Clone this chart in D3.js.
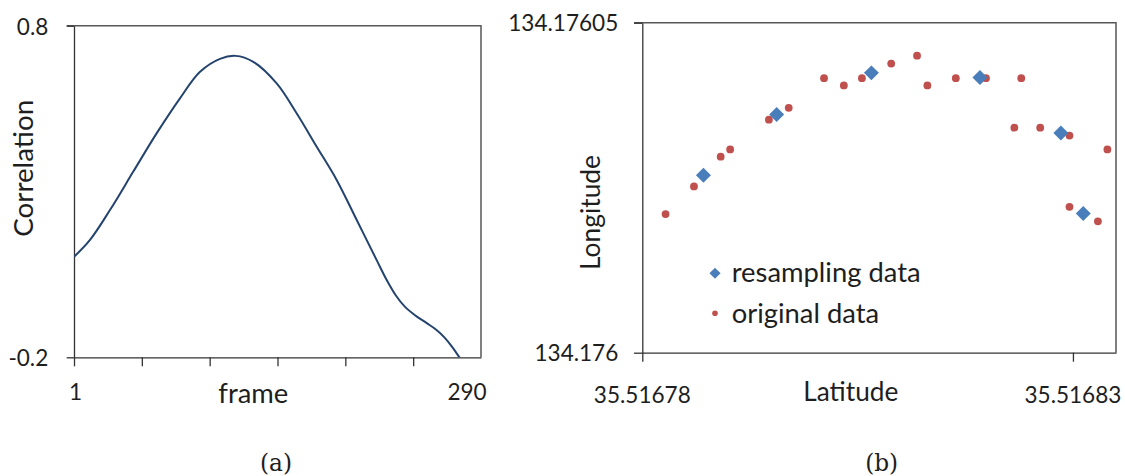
<!DOCTYPE html>
<html><head><meta charset="utf-8">
<script src="https://cdn.jsdelivr.net/npm/d3@7"></script>
<style>body{margin:0;background:#fff}svg{display:block}</style>
</head><body>
<svg id="c" width="1125" height="476"></svg>
<script>
// ---------- data: panel (a) ----------
const frames = [1, 12.8, 27.5, 44.7, 62, 79.1, 93.9, 108.6, 120.2, 133.2, 150.4, 165.1, 179.9, 194.6, 209.4, 224.1, 231.5, 238, 245, 253, 261, 268, 274, 280, 285.5, 290];
const correlation = [0.103, 0.154, 0.244, 0.360, 0.476, 0.581, 0.661, 0.700, 0.709, 0.691, 0.626, 0.536, 0.435, 0.335, 0.214, 0.093, 0.033, -0.012, -0.048, -0.075, -0.097, -0.117, -0.140, -0.170, -0.203, -0.232];
const frameTicks = [1, 51, 101, 151, 201, 251];
const frameLabels = [1, 290];
const corrTicks = [0.8, -0.2];

// ---------- data: panel (b) ----------
const latOriginal = [35.5167827, 35.5167860, 35.5167891, 35.5167902, 35.5167947, 35.5167970, 35.5168011, 35.5168034, 35.5168055, 35.5168089, 35.5168119, 35.5168131, 35.5168164, 35.5168199, 35.5168240, 35.5168232, 35.5168262, 35.5168296, 35.5168340, 35.5168296, 35.5168329];
const lonOriginal = [134.1760210, 134.1760252, 134.1760297, 134.1760308, 134.1760353, 134.1760371, 134.1760416, 134.1760405, 134.1760416, 134.1760438, 134.1760450, 134.1760405, 134.1760416, 134.1760416, 134.1760416, 134.1760341, 134.1760341, 134.1760329, 134.1760308, 134.1760221, 134.1760199];
const latResampled = [35.5167871, 35.5167956, 35.5168066, 35.5168192, 35.5168286, 35.5168312];
const lonResampled = [134.1760269, 134.1760361, 134.1760424, 134.1760417, 134.1760333, 134.1760211];
const latTicks = [35.51678, 35.51683];
const lonTicks = [134.176, 134.17605];
const legendLabels = ["resampling data", "original data"];

const SANS = "Lato, 'Open Sans', sans-serif";
const SERIF = "'DejaVu Serif', serif";
const TXT = "#1e1e1e";
const BORDER = "#575757";
const BLUE = "#4a7ebb", RED = "#c0504d";

const svg = d3.select("#c");

function fitText(sel, width) {
  sel.style("font-size", "20px");
  const len = sel.node().getComputedTextLength();
  const fs = 20 * width / len;
  sel.style("font-size", fs + "px");
  return fs;
}
function txt(g, s, x, y, anchor, family) {
  return g.append("text").attr("x", x).attr("y", y).attr("dy", "0.35em")
    .attr("text-anchor", anchor).style("font-family", family || SANS)
    .attr("fill", TXT).text(s);
}

const probe = txt(svg, "35.51678", -500, -500, "start");
const tickFS = fitText(probe, 97);
probe.remove();

// ================= panel (a) =================
{
  const L = 74, R = 481, T = 25.7, B = 357.3;
  const x = d3.scaleLinear().domain([1, 301]).range([L, R]);
  const y = d3.scaleLinear().domain([-0.2, 0.8]).range([B, T]);
  const g = svg.append("g");

  g.append("clipPath").attr("id", "clipA").append("rect")
    .attr("x", L).attr("y", T).attr("width", R - L).attr("height", B - T);

  g.append("path").attr("d", `M${L - 7.3},${T}H${R}V${B}`)
    .attr("fill", "none").attr("stroke", BORDER).attr("stroke-width", 1.5);

  const xa = g.append("g").attr("transform", `translate(0,${B})`)
    .call(d3.axisBottom(x).tickValues(frameTicks).tickFormat("").tickSize(9).tickSizeOuter(0));
  xa.select(".domain").attr("stroke", "#333").attr("stroke-width", 1.3);
  xa.selectAll(".tick line").attr("stroke", "#333").attr("stroke-width", 1.3);

  const ya = g.append("g").attr("transform", `translate(${L},0)`)
    .call(d3.axisLeft(y).tickValues(corrTicks).tickFormat("").tickSize(7.3).tickSizeOuter(0));
  ya.select(".domain").attr("stroke", "#333").attr("stroke-width", 1.3);
  ya.selectAll(".tick line").attr("stroke", "#333").attr("stroke-width", 1.3);

  corrTicks.forEach(v => {
    txt(g, String(v), 48.3, y(v) + 1, "end").style("font-size", tickFS + "px");
  });
  frameLabels.forEach(f => {
    txt(g, String(f), x(f) + (f === 1 ? 1.5 : 1), 391.7, "middle").style("font-size", tickFS + "px");
  });

  fitText(txt(g, "frame", 253.3, 393, "middle"), 70);
  const cl = txt(g, "Correlation", 0, 0, "middle").attr("transform", "translate(23.3,168.3) rotate(-90)");
  fitText(cl, 137);

  const line = d3.line().x((d, i) => x(frames[i])).y(d => y(d)).curve(d3.curveCatmullRom.alpha(0.5));
  g.append("path").attr("clip-path", "url(#clipA)")
    .attr("d", line(correlation)).attr("fill", "none")
    .attr("stroke", "#24446e").attr("stroke-width", 2);

  const cap = g.append("text").attr("x", 276).attr("y", 463).attr("dy", "0.35em")
    .attr("text-anchor", "middle").style("font-family", SERIF).attr("fill", TXT).text("(a)");
  fitText(cap, 32);
}

// ================= panel (b) =================
{
  const L = 642.3, R = 1116, T = 22.7, B = 352.7;
  const x = d3.scaleLinear().domain([35.51678, 35.516835]).range([L, R]);
  const y = d3.scaleLinear().domain([134.176, 134.17605]).range([B, T]);
  const g = svg.append("g");

  g.append("path").attr("d", `M${L - 8.3},${T}H${R}V${B}`)
    .attr("fill", "none").attr("stroke", BORDER).attr("stroke-width", 1.5);

  const xa = g.append("g").attr("transform", `translate(0,${B})`)
    .call(d3.axisBottom(x).tickValues(latTicks).tickFormat("").tickSize(9).tickSizeOuter(0));
  xa.select(".domain").attr("stroke", "#333").attr("stroke-width", 1.3);
  xa.selectAll(".tick line").attr("stroke", "#333").attr("stroke-width", 1.3);

  const ya = g.append("g").attr("transform", `translate(${L},0)`)
    .call(d3.axisLeft(y).tickValues(lonTicks).tickFormat("").tickSize(8.3).tickSizeOuter(0));
  ya.select(".domain").attr("stroke", "#333").attr("stroke-width", 1.3);
  ya.selectAll(".tick line").attr("stroke", "#333").attr("stroke-width", 1.3);

  lonTicks.forEach(v => {
    txt(g, String(v), 618.3, y(v) + 0.6, "end").style("font-size", tickFS + "px");
  });
  latTicks.forEach(v => {
    txt(g, String(v), x(v), 395, "middle").style("font-size", tickFS + "px");
  });

  fitText(txt(g, "Latitude", 850.8, 391.7, "middle"), 95);
  const lo = txt(g, "Longitude", 0, 0, "middle").attr("transform", "translate(591,212.5) rotate(-90)");
  fitText(lo, 115);

  g.selectAll("circle.orig").data(latOriginal).join("circle").attr("class", "orig")
    .attr("cx", d => x(d)).attr("cy", (d, i) => y(lonOriginal[i])).attr("r", 3.9)
    .attr("fill", RED);

  const dia = d3.symbol().type(d3.symbolSquare).size(112);
  g.selectAll("path.res").data(latResampled).join("path").attr("class", "res")
    .attr("d", dia)
    .attr("transform", (d, i) => `translate(${x(d)},${y(lonResampled[i])}) rotate(45)`)
    .attr("fill", BLUE);

  g.append("path").attr("d", d3.symbol().type(d3.symbolSquare).size(62))
    .attr("transform", "translate(715,273.3) rotate(45)").attr("fill", BLUE);
  g.append("circle").attr("cx", 715).attr("cy", 313.3).attr("r", 2.8).attr("fill", RED);
  const l1 = txt(g, legendLabels[0], 731.7, 272.5, "start");
  const legFS = fitText(l1, 189);
  txt(g, legendLabels[1], 731.7, 313.5, "start").style("font-size", legFS + "px");

  const cap = g.append("text").attr("x", 881.7).attr("y", 463).attr("dy", "0.35em")
    .attr("text-anchor", "middle").style("font-family", SERIF).attr("fill", TXT).text("(b)");
  fitText(cap, 33);
}
</script>
</body></html>
